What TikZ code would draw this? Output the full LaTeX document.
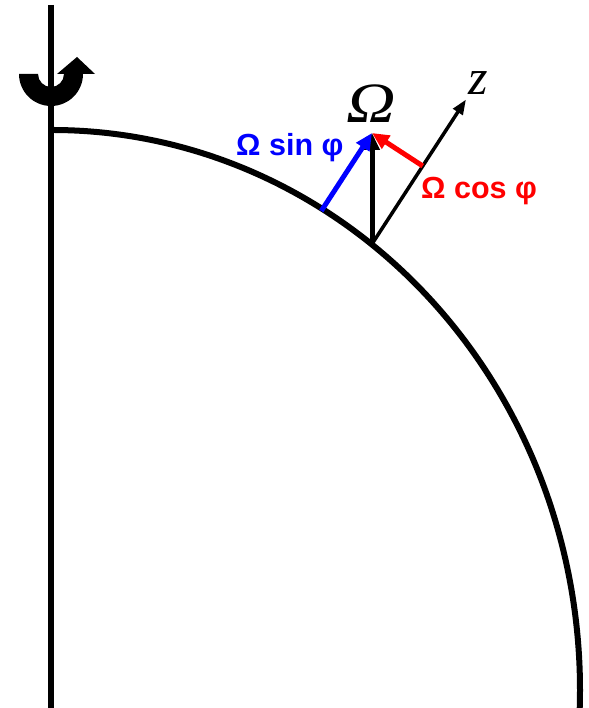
\documentclass[tikz,border=0pt]{standalone}
\usepackage{fontspec}
\setmainfont{Liberation Serif}
\newfontfamily\lsans{Liberation Sans}
\usetikzlibrary{arrows.meta,calc}
\definecolor{vblue}{RGB}{0,0,255}
\definecolor{vred}{RGB}{255,0,0}
\tikzset{
  earth/.style={line width=6pt},
  axisline/.style={line width=5.5pt},
  vec/.style={line width=5pt,-{Triangle[length=17pt,width=15pt]}},
  zaxis/.style={line width=3.5pt,-{Triangle[length=15pt,width=11pt]}},
  comp/.style={font=\lsans\bfseries\fontsize{30.5}{30.5}\selectfont,inner sep=0pt},
  big/.style={font=\itshape\fontsize{57}{57}\selectfont,inner sep=0pt}
}
\begin{document}
\begin{tikzpicture}[x=1pt,y=1pt]
\useasboundingbox (0,0) rectangle (588,708);
% rotation axis
\coordinate (axtop) at (51,703);
\coordinate (axbot) at (51,-5);
\draw[axisline] (axtop) -- (axbot);
% rotation arrow
\fill (19,634) arc[start angle=180,end angle=360,radius=32] -- (95,634) -- (77,651) -- (57,634) -- (64,634)
  arc[start angle=0,end angle=-180,radius=13] -- cycle;
% earth surface
\coordinate (top) at (52,578);
\draw[earth] (top) arc[start angle=90,end angle=-5,x radius=528,y radius=560];
% vectors
\coordinate (B) at (372,464);
\coordinate (T) at (372,575);
\coordinate (Z) at (466,608.5);
\coordinate (R) at ($(B)!(T)!(Z)$);
\coordinate (S) at ($(T)-(R)+(B)$);
\draw[zaxis] (B) -- (Z);
\draw[vec] (B) -- (T);
\draw[vec,vblue] (S) -- (T);
\draw[vec,vred] (R) -- (T);
% labels
\node[big,anchor=base] (om) at (371,585) {\scalebox{1.2}[1]{Ω}};
\node[big,anchor=base west,font=\itshape\fontsize{50}{50}\selectfont] (zl) at (468,613) {z};
\node[comp,vblue,anchor=base west] (sinl) at (236,552.5) {Ω sin φ};
\node[comp,vred,anchor=base west] (cosl) at (421,509.7) {Ω cos φ};
\end{tikzpicture}
\end{document}
